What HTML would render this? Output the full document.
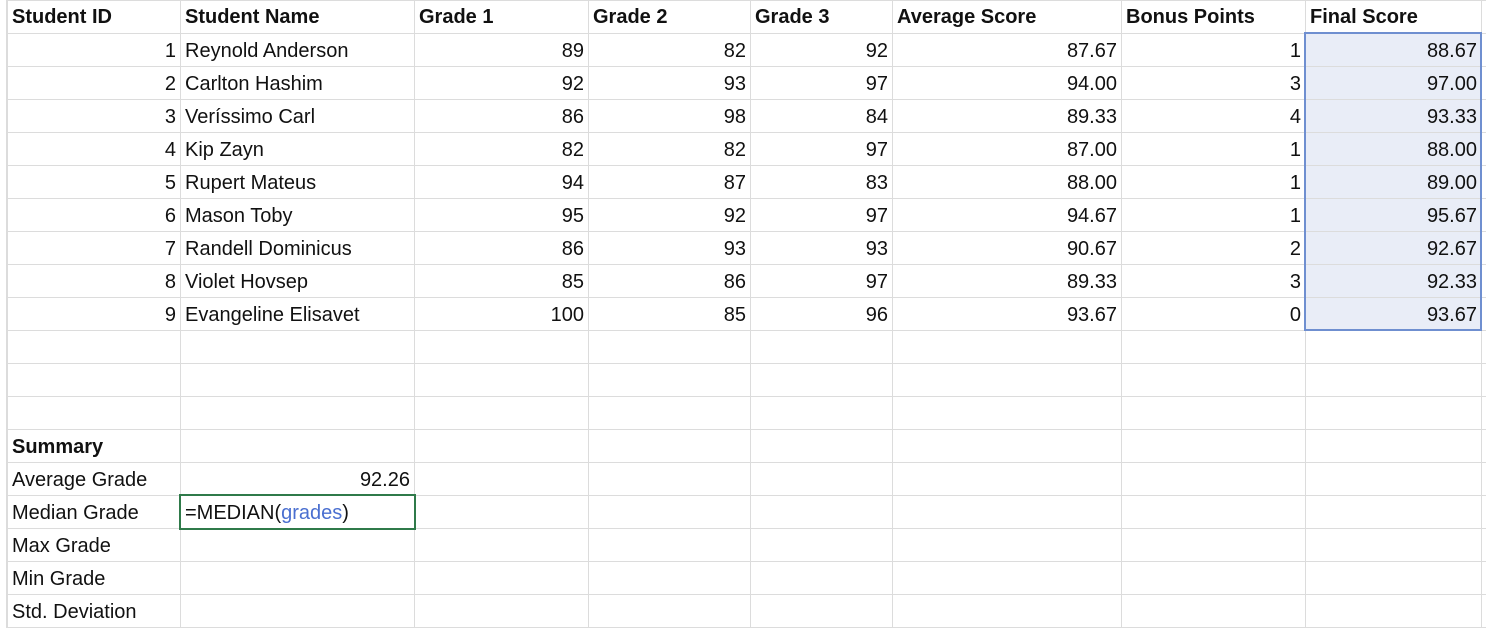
<!DOCTYPE html>
<html><head><meta charset="utf-8"><style>
body{margin:0;width:1486px;height:628px;overflow:hidden;background:#fff;font-family:"Liberation Sans",sans-serif;position:relative;}
#grid{position:absolute;left:7px;top:0;border-collapse:collapse;table-layout:fixed;width:1494px;}
#grid td{height:32px;border:1px solid #dcdcdc;padding:2px 4px 0 4px;font-size:20px;color:#111;white-space:nowrap;overflow:hidden;line-height:30px;box-sizing:border-box;}
#grid td:empty::after{content:"\00a0";}
#grid td.n{text-align:right;}
#grid tr.h td{font-weight:bold;padding-top:0;line-height:32px;}
#grid td.fs{background:#e9edf7;}
#sel{position:absolute;left:1304px;top:32px;width:178px;height:299px;border:2px solid #6f8fd0;box-sizing:border-box;}
#med{position:absolute;left:179px;top:494px;width:237px;height:36px;border:2px solid #2f7a4a;box-sizing:border-box;}
.lb{position:absolute;left:0;top:0;width:6px;height:628px;border-right:1px solid #dcdcdc;}
.g{color:#4a6fd0;}
</style></head><body>
<div class="lb"></div>
<table id="grid">
<colgroup><col style="width:173px"><col style="width:234px"><col style="width:174px"><col style="width:162px"><col style="width:142px"><col style="width:229px"><col style="width:184px"><col style="width:176px"><col style="width:20px"></colgroup>
<tr class="h"><td>Student ID</td><td>Student Name</td><td>Grade 1</td><td>Grade 2</td><td>Grade 3</td><td>Average Score</td><td>Bonus Points</td><td>Final Score</td><td></td></tr>
<tr><td class="n">1</td><td>Reynold Anderson</td><td class="n">89</td><td class="n">82</td><td class="n">92</td><td class="n">87.67</td><td class="n">1</td><td class="n fs">88.67</td><td></td></tr>
<tr><td class="n">2</td><td>Carlton Hashim</td><td class="n">92</td><td class="n">93</td><td class="n">97</td><td class="n">94.00</td><td class="n">3</td><td class="n fs">97.00</td><td></td></tr>
<tr><td class="n">3</td><td>Veríssimo Carl</td><td class="n">86</td><td class="n">98</td><td class="n">84</td><td class="n">89.33</td><td class="n">4</td><td class="n fs">93.33</td><td></td></tr>
<tr><td class="n">4</td><td>Kip Zayn</td><td class="n">82</td><td class="n">82</td><td class="n">97</td><td class="n">87.00</td><td class="n">1</td><td class="n fs">88.00</td><td></td></tr>
<tr><td class="n">5</td><td>Rupert Mateus</td><td class="n">94</td><td class="n">87</td><td class="n">83</td><td class="n">88.00</td><td class="n">1</td><td class="n fs">89.00</td><td></td></tr>
<tr><td class="n">6</td><td>Mason Toby</td><td class="n">95</td><td class="n">92</td><td class="n">97</td><td class="n">94.67</td><td class="n">1</td><td class="n fs">95.67</td><td></td></tr>
<tr><td class="n">7</td><td>Randell Dominicus</td><td class="n">86</td><td class="n">93</td><td class="n">93</td><td class="n">90.67</td><td class="n">2</td><td class="n fs">92.67</td><td></td></tr>
<tr><td class="n">8</td><td>Violet Hovsep</td><td class="n">85</td><td class="n">86</td><td class="n">97</td><td class="n">89.33</td><td class="n">3</td><td class="n fs">92.33</td><td></td></tr>
<tr><td class="n">9</td><td>Evangeline Elisavet</td><td class="n">100</td><td class="n">85</td><td class="n">96</td><td class="n">93.67</td><td class="n">0</td><td class="n fs">93.67</td><td></td></tr>
<tr><td></td><td></td><td></td><td></td><td></td><td></td><td></td><td></td><td></td></tr>
<tr><td></td><td></td><td></td><td></td><td></td><td></td><td></td><td></td><td></td></tr>
<tr><td></td><td></td><td></td><td></td><td></td><td></td><td></td><td></td><td></td></tr>
<tr><td style="font-weight:bold">Summary</td><td></td><td></td><td></td><td></td><td></td><td></td><td></td><td></td></tr>
<tr><td>Average Grade</td><td class="n">92.26</td><td></td><td></td><td></td><td></td><td></td><td></td><td></td></tr>
<tr><td>Median Grade</td><td>=MEDIAN(<span class="g">grades</span>)</td><td></td><td></td><td></td><td></td><td></td><td></td><td></td></tr>
<tr><td>Max Grade</td><td></td><td></td><td></td><td></td><td></td><td></td><td></td><td></td></tr>
<tr><td>Min Grade</td><td></td><td></td><td></td><td></td><td></td><td></td><td></td><td></td></tr>
<tr><td>Std. Deviation</td><td></td><td></td><td></td><td></td><td></td><td></td><td></td><td></td></tr>
</table>
<div id="sel"></div>
<div id="med"></div>
</body></html>
